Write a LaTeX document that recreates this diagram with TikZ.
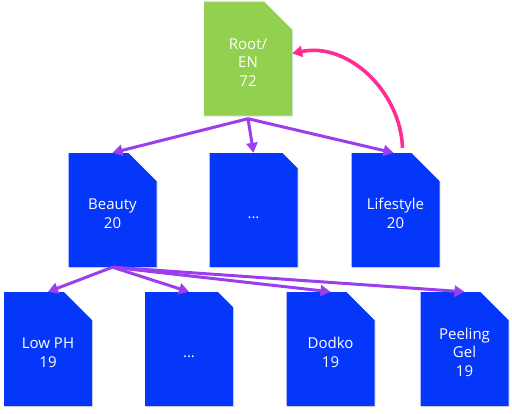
\documentclass[tikz,border=0pt]{standalone}
\usepackage{fontspec}
\setmainfont{Open Sans}
\usetikzlibrary{arrows.meta, shapes.misc, shadows}

\definecolor{docblue}{RGB}{5,55,250}
\definecolor{docgreen}{RGB}{146,208,80}
\definecolor{linkpurple}{RGB}{155,62,240}
\definecolor{backpink}{RGB}{255,45,145}

\newcommand{\lowtext}{\rule{0pt}{18pt}}

\begin{document}
\begin{tikzpicture}[
    x=1pt, y=-1pt,
    >={Triangle[length=10pt, width=11pt]},
    every node/.style={chamfered rectangle, chamfered rectangle corners=north east,
        chamfered rectangle xsep=14pt, chamfered rectangle ysep=14pt,
        minimum width=88pt, minimum height=114pt, inner sep=0pt,
        text=white, align=center, font=\fontsize{15}{18.5}\selectfont,
        drop shadow={shadow xshift=1.2pt, shadow yshift=-1.2pt, opacity=0.25}},
    doc/.style={fill=docblue},
    rootdoc/.style={fill=docgreen},
    link/.style={->, draw=linkpurple, line width=3pt},
    back/.style={->, draw=backpink, line width=3.6pt}
]
\useasboundingbox (0,0) rectangle (512,413);

% Nodes
\node[rootdoc] (root) at (248,58.5) {\lowtext Root/\\EN\\72};

\node[doc] (beauty) at (112.5,210) {\lowtext Beauty\\20};
\node[doc] (more) at (253.5,210) {\lowtext ...};
\node[doc] (lifestyle) at (395.5,210) {\lowtext Lifestyle\\20};

\node[doc] (lowph) at (48,349) {\lowtext Low PH\\19};
\node[doc] (more2) at (189,349) {\lowtext ...};
\node[doc] (dodko) at (330.5,349) {\lowtext Dodko\\19};
\node[doc] (peeling) at (464.5,349) {\lowtext Peeling\\Gel\\19};

% Edges
\draw[link] ([yshift=-3pt]root.south) -- (beauty.north);
\draw[link] ([yshift=-3pt]root.south) -- (more.north);
\draw[link] ([yshift=-3pt]root.south) -- ([xshift=-2pt]lifestyle.north);

\draw[link] (beauty.south) -- (lowph.north);
\draw[link] (beauty.south) -- (more2.north);
\draw[link] (beauty.south) -- (dodko.north);
\draw[link] (beauty.south) -- (peeling.north);

% Back link
\draw[back] ([xshift=7pt, yshift=5pt]lifestyle.north) to[out=92, in=12] ([yshift=5pt]root.east);

\end{tikzpicture}
\end{document}
